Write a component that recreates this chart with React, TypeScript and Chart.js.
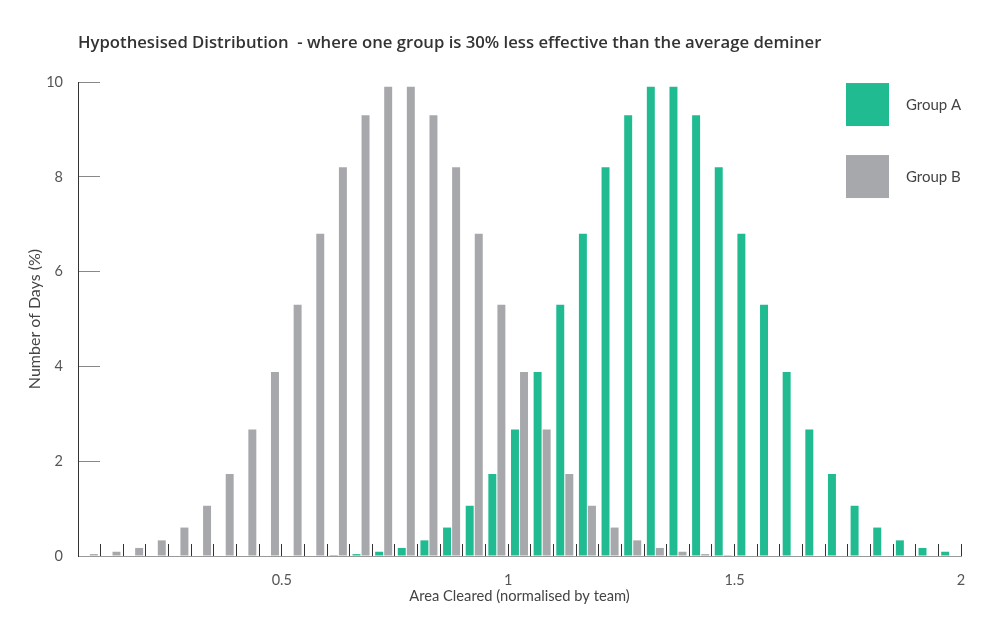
import React, { useEffect, useRef } from 'react';
import { Chart, registerables } from 'chart.js';

Chart.register(...registerables);

// Bin upper edges (each bin is 0.05 wide, from 0.05 to 2)
const categories = [
  '0.1', '0.15', '0.2', '0.25', '0.3', '0.35', '0.4', '0.45', '0.5', '0.55',
  '0.6', '0.65', '0.7', '0.75', '0.8', '0.85', '0.9', '0.95', '1', '1.05',
  '1.1', '1.15', '1.2', '1.25', '1.3', '1.35', '1.4', '1.45', '1.5', '1.55',
  '1.6', '1.65', '1.7', '1.75', '1.8', '1.85', '1.9', '1.95', '2',
];

const tickLabels = ['0.5', '1', '1.5', '2'];
const yTicks = [0, 2, 4, 6, 8, 10];

const groupA = [
  0, 0, 0, 0, 0, 0, 0, 0, 0, 0,
  0.01, 0.02, 0.04, 0.09, 0.17, 0.33, 0.6, 1.06, 1.73, 2.67,
  3.88, 5.3, 6.8, 8.2, 9.3, 9.9, 9.9, 9.3, 8.2, 6.8,
  5.3, 3.88, 2.67, 1.73, 1.06, 0.6, 0.33, 0.17, 0.09,
];

const groupB = [
  0.04, 0.09, 0.17, 0.33, 0.6, 1.06, 1.73, 2.67, 3.88, 5.3,
  6.8, 8.2, 9.3, 9.9, 9.9, 9.3, 8.2, 6.8, 5.3, 3.88,
  2.67, 1.73, 1.06, 0.6, 0.33, 0.17, 0.09, 0.04, 0.02, 0.01,
  0, 0, 0, 0, 0, 0, 0, 0, 0,
];

const seriesNames = ['Group A', 'Group B'];
const seriesColors = ['#21BB92', '#A7A8AB'];

const FONT = 'Lato';
const TITLE_FONT = '"Open Sans"';

const cornerLegend = {
  id: 'cornerLegend',
  afterDraw(chart: any) {
    const ctx = chart.ctx;
    const { right, top } = chart.chartArea;
    ctx.save();
    chart.data.datasets.forEach((ds: any, i: number) => {
      const x = right - 115;
      const y = top + 1 + i * 72;
      ctx.fillStyle = ds.backgroundColor;
      ctx.fillRect(x, y, 43, 43);
      ctx.fillStyle = '#444';
      ctx.font = `15px ${FONT}`;
      ctx.textBaseline = 'middle';
      ctx.textAlign = 'left';
      ctx.fillText(ds.label, x + 60, y + 22);
    });
    ctx.restore();
  },
};

export default function App() {
  const ref = useRef<HTMLCanvasElement>(null);

  useEffect(() => {
    document.body.style.margin = '0';
    const canvas = ref.current;
    if (!canvas) return;
    const chart = new Chart(canvas, {
      type: 'bar',
      data: {
        labels: categories,
        datasets: [
          {
            label: seriesNames[0],
            data: groupA,
            backgroundColor: seriesColors[0],
            categoryPercentage: 0.8,
            barPercentage: 0.88,
          },
          {
            label: seriesNames[1],
            data: groupB,
            backgroundColor: seriesColors[1],
            categoryPercentage: 0.8,
            barPercentage: 0.88,
          },
        ],
      },
      options: {
        animation: false,
        responsive: false,
        maintainAspectRatio: false,
        layout: { padding: { left: 0, right: 39, top: 0, bottom: 0 } },
        plugins: {
          legend: { display: false },
          tooltip: { enabled: false },
          title: {
            display: true,
            text: 'Hypothesised Distribution  - where one group is 30% less effective than the average deminer',
            align: 'start',
            fullSize: false,
            color: '#333',
            font: { family: TITLE_FONT, size: 16.7, weight: '600', lineHeight: 1.2 },
            padding: { top: 33, bottom: 29 },
          },
        },
        scales: {
          x: {
            type: 'category',
            offset: true,
            grid: {
              offset: true,
              drawOnChartArea: false,
              drawTicks: true,
              tickLength: -12,
              color: '#333',
              tickColor: '#333',
            },
            border: { color: '#999' },
            ticks: {
              autoSkip: false,
              maxRotation: 0,
              minRotation: 0,
              labelOffset: 11.3,
              padding: 28,
              color: '#555',
              font: { family: FONT, size: 14.5 },
              callback: (_v: any, i: number) => {
                const l = categories[i];
                return tickLabels.includes(l) ? l : '';
              },
            },
            title: {
              display: true,
              text: 'Area Cleared (normalised by team)',
              color: '#444',
              font: { family: FONT, size: 14.7 },
              padding: { top: 0, bottom: 30 },
            },
            afterFit: (s: any) => {
              s.height = 79;
            },
          },
          y: {
            min: 0,
            max: 10,
            afterBuildTicks: (s: any) => {
              s.ticks = yTicks.map((v) => ({ value: v }));
            },
            ticks: {
              padding: 37,
              color: '#555',
              font: { family: FONT, size: 14.5 },
            },
            grid: {
              drawOnChartArea: false,
              drawTicks: true,
              tickLength: -22,
              color: '#888',
              tickColor: '#888',
            },
            border: { color: '#333' },
            title: {
              display: true,
              text: 'Number of Days (%)',
              color: '#444',
              font: { family: FONT, size: 16 },
              padding: { top: 25, bottom: 0 },
            },
            afterFit: (s: any) => {
              s.width = 78;
            },
          },
        },
      },
      plugins: [cornerLegend],
    });
    return () => chart.destroy();
  }, []);

  return <canvas ref={ref} width={1000} height={635} style={{ display: 'block' }} />;
}
